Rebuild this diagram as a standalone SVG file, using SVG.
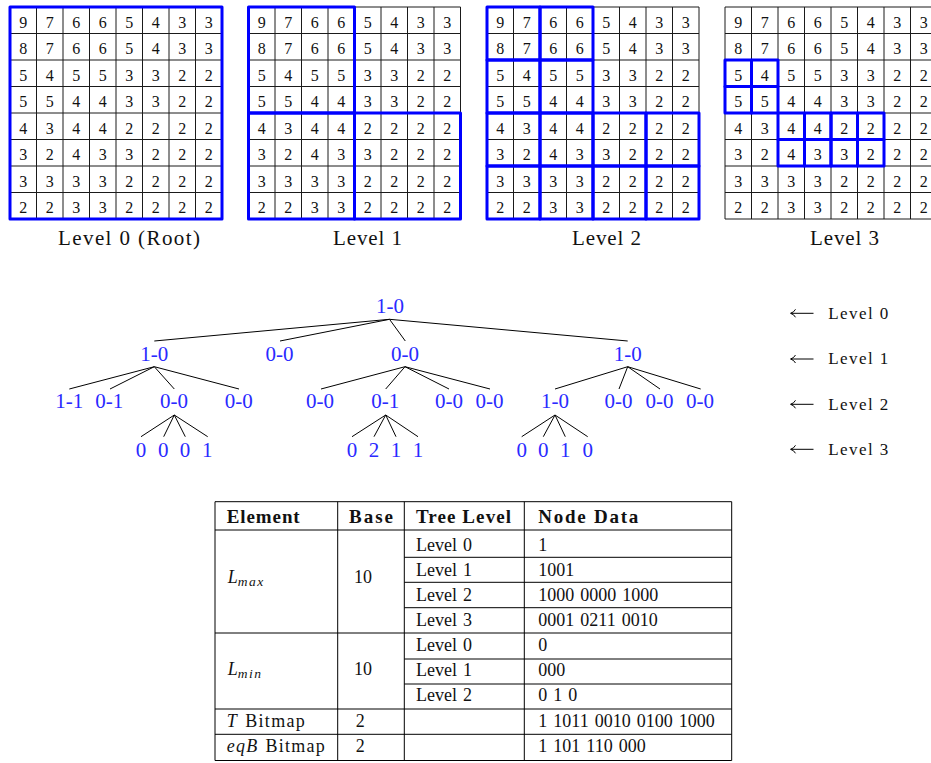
<svg xmlns="http://www.w3.org/2000/svg" xmlns:xlink="http://www.w3.org/1999/xlink" width="931" height="763" viewBox="0 0 931 763">
<style>
.num{font-family:"Liberation Serif",serif;font-size:16px;text-anchor:middle;fill:#111}
.gl{fill:none;stroke:#1a1a1a;stroke-width:1}
.blue{fill:none;stroke:#0000ff;stroke-width:3;stroke-linejoin:round}
.cap{font-family:"Liberation Serif",serif;font-size:21px;text-anchor:middle;fill:#111}
.node{font-family:"Liberation Serif",serif;font-size:21px;text-anchor:middle;fill:#2a2aff}
.edge{fill:none;stroke:#000;stroke-width:1}
.leg{font-family:"Liberation Serif",serif;font-size:17px;fill:#111}
.arr{fill:none;stroke:#000;stroke-width:1}
.tl{fill:none;stroke:#000;stroke-width:1}
.th{font-family:"Liberation Serif",serif;font-size:19px;font-weight:bold;fill:#111}
.td{font-family:"Liberation Serif",serif;font-size:18px;word-spacing:1.5px;fill:#111}
.it{font-style:italic}
</style>
<defs>
<path id="gridlines" class="gl" d="M0 0H212M0 26.5H212M0 53H212M0 79.5H212M0 106H212M0 132.5H212M0 159H212M0 185.5H212M0 212H212M0 0V212M26.5 0V212M53 0V212M79.5 0V212M106 0V212M132.5 0V212M159 0V212M185.5 0V212M212 0V212"/>
</defs>
<rect width="931" height="763" fill="#fff"/>

<g id="grid0" transform="translate(10,7)">
<use xlink:href="#gridlines" href="#gridlines"/>
<g class="num">
<text x="13.25" y="20.5">9</text><text x="39.75" y="20.5">7</text><text x="66.25" y="20.5">6</text><text x="92.75" y="20.5">6</text><text x="119.25" y="20.5">5</text><text x="145.75" y="20.5">4</text><text x="172.25" y="20.5">3</text><text x="198.75" y="20.5">3</text>
<text x="13.25" y="47">8</text><text x="39.75" y="47">7</text><text x="66.25" y="47">6</text><text x="92.75" y="47">6</text><text x="119.25" y="47">5</text><text x="145.75" y="47">4</text><text x="172.25" y="47">3</text><text x="198.75" y="47">3</text>
<text x="13.25" y="73.5">5</text><text x="39.75" y="73.5">4</text><text x="66.25" y="73.5">5</text><text x="92.75" y="73.5">5</text><text x="119.25" y="73.5">3</text><text x="145.75" y="73.5">3</text><text x="172.25" y="73.5">2</text><text x="198.75" y="73.5">2</text>
<text x="13.25" y="100">5</text><text x="39.75" y="100">5</text><text x="66.25" y="100">4</text><text x="92.75" y="100">4</text><text x="119.25" y="100">3</text><text x="145.75" y="100">3</text><text x="172.25" y="100">2</text><text x="198.75" y="100">2</text>
<text x="13.25" y="126.5">4</text><text x="39.75" y="126.5">3</text><text x="66.25" y="126.5">4</text><text x="92.75" y="126.5">4</text><text x="119.25" y="126.5">2</text><text x="145.75" y="126.5">2</text><text x="172.25" y="126.5">2</text><text x="198.75" y="126.5">2</text>
<text x="13.25" y="153">3</text><text x="39.75" y="153">2</text><text x="66.25" y="153">4</text><text x="92.75" y="153">3</text><text x="119.25" y="153">3</text><text x="145.75" y="153">2</text><text x="172.25" y="153">2</text><text x="198.75" y="153">2</text>
<text x="13.25" y="179.5">3</text><text x="39.75" y="179.5">3</text><text x="66.25" y="179.5">3</text><text x="92.75" y="179.5">3</text><text x="119.25" y="179.5">2</text><text x="145.75" y="179.5">2</text><text x="172.25" y="179.5">2</text><text x="198.75" y="179.5">2</text>
<text x="13.25" y="206">2</text><text x="39.75" y="206">2</text><text x="66.25" y="206">3</text><text x="92.75" y="206">3</text><text x="119.25" y="206">2</text><text x="145.75" y="206">2</text><text x="172.25" y="206">2</text><text x="198.75" y="206">2</text>
</g>
<rect class="blue" x="0" y="0" width="212" height="212"/>
<text class="cap" x="119" y="238" textLength="142" lengthAdjust="spacing">Level 0 (Root)</text>
</g>

<g id="grid1" transform="translate(248.5,7)">
<use xlink:href="#gridlines" href="#gridlines"/>
<g class="num">
<text x="13.25" y="20.5">9</text><text x="39.75" y="20.5">7</text><text x="66.25" y="20.5">6</text><text x="92.75" y="20.5">6</text><text x="119.25" y="20.5">5</text><text x="145.75" y="20.5">4</text><text x="172.25" y="20.5">3</text><text x="198.75" y="20.5">3</text>
<text x="13.25" y="47">8</text><text x="39.75" y="47">7</text><text x="66.25" y="47">6</text><text x="92.75" y="47">6</text><text x="119.25" y="47">5</text><text x="145.75" y="47">4</text><text x="172.25" y="47">3</text><text x="198.75" y="47">3</text>
<text x="13.25" y="73.5">5</text><text x="39.75" y="73.5">4</text><text x="66.25" y="73.5">5</text><text x="92.75" y="73.5">5</text><text x="119.25" y="73.5">3</text><text x="145.75" y="73.5">3</text><text x="172.25" y="73.5">2</text><text x="198.75" y="73.5">2</text>
<text x="13.25" y="100">5</text><text x="39.75" y="100">5</text><text x="66.25" y="100">4</text><text x="92.75" y="100">4</text><text x="119.25" y="100">3</text><text x="145.75" y="100">3</text><text x="172.25" y="100">2</text><text x="198.75" y="100">2</text>
<text x="13.25" y="126.5">4</text><text x="39.75" y="126.5">3</text><text x="66.25" y="126.5">4</text><text x="92.75" y="126.5">4</text><text x="119.25" y="126.5">2</text><text x="145.75" y="126.5">2</text><text x="172.25" y="126.5">2</text><text x="198.75" y="126.5">2</text>
<text x="13.25" y="153">3</text><text x="39.75" y="153">2</text><text x="66.25" y="153">4</text><text x="92.75" y="153">3</text><text x="119.25" y="153">3</text><text x="145.75" y="153">2</text><text x="172.25" y="153">2</text><text x="198.75" y="153">2</text>
<text x="13.25" y="179.5">3</text><text x="39.75" y="179.5">3</text><text x="66.25" y="179.5">3</text><text x="92.75" y="179.5">3</text><text x="119.25" y="179.5">2</text><text x="145.75" y="179.5">2</text><text x="172.25" y="179.5">2</text><text x="198.75" y="179.5">2</text>
<text x="13.25" y="206">2</text><text x="39.75" y="206">2</text><text x="66.25" y="206">3</text><text x="92.75" y="206">3</text><text x="119.25" y="206">2</text><text x="145.75" y="206">2</text><text x="172.25" y="206">2</text><text x="198.75" y="206">2</text>
</g>
<rect class="blue" x="0" y="0" width="106" height="106"/>
<rect class="blue" x="0" y="106" width="106" height="106"/>
<rect class="blue" x="106" y="106" width="106" height="106"/>
<text class="cap" x="119" y="238" textLength="69" lengthAdjust="spacing">Level 1</text>
</g>

<g id="grid2" transform="translate(487,7)">
<use xlink:href="#gridlines" href="#gridlines"/>
<g class="num">
<text x="13.25" y="20.5">9</text><text x="39.75" y="20.5">7</text><text x="66.25" y="20.5">6</text><text x="92.75" y="20.5">6</text><text x="119.25" y="20.5">5</text><text x="145.75" y="20.5">4</text><text x="172.25" y="20.5">3</text><text x="198.75" y="20.5">3</text>
<text x="13.25" y="47">8</text><text x="39.75" y="47">7</text><text x="66.25" y="47">6</text><text x="92.75" y="47">6</text><text x="119.25" y="47">5</text><text x="145.75" y="47">4</text><text x="172.25" y="47">3</text><text x="198.75" y="47">3</text>
<text x="13.25" y="73.5">5</text><text x="39.75" y="73.5">4</text><text x="66.25" y="73.5">5</text><text x="92.75" y="73.5">5</text><text x="119.25" y="73.5">3</text><text x="145.75" y="73.5">3</text><text x="172.25" y="73.5">2</text><text x="198.75" y="73.5">2</text>
<text x="13.25" y="100">5</text><text x="39.75" y="100">5</text><text x="66.25" y="100">4</text><text x="92.75" y="100">4</text><text x="119.25" y="100">3</text><text x="145.75" y="100">3</text><text x="172.25" y="100">2</text><text x="198.75" y="100">2</text>
<text x="13.25" y="126.5">4</text><text x="39.75" y="126.5">3</text><text x="66.25" y="126.5">4</text><text x="92.75" y="126.5">4</text><text x="119.25" y="126.5">2</text><text x="145.75" y="126.5">2</text><text x="172.25" y="126.5">2</text><text x="198.75" y="126.5">2</text>
<text x="13.25" y="153">3</text><text x="39.75" y="153">2</text><text x="66.25" y="153">4</text><text x="92.75" y="153">3</text><text x="119.25" y="153">3</text><text x="145.75" y="153">2</text><text x="172.25" y="153">2</text><text x="198.75" y="153">2</text>
<text x="13.25" y="179.5">3</text><text x="39.75" y="179.5">3</text><text x="66.25" y="179.5">3</text><text x="92.75" y="179.5">3</text><text x="119.25" y="179.5">2</text><text x="145.75" y="179.5">2</text><text x="172.25" y="179.5">2</text><text x="198.75" y="179.5">2</text>
<text x="13.25" y="206">2</text><text x="39.75" y="206">2</text><text x="66.25" y="206">3</text><text x="92.75" y="206">3</text><text x="119.25" y="206">2</text><text x="145.75" y="206">2</text><text x="172.25" y="206">2</text><text x="198.75" y="206">2</text>
</g>
<rect class="blue" x="0" y="0" width="53" height="53"/>
<rect class="blue" x="53" y="0" width="53" height="53"/>
<rect class="blue" x="0" y="53" width="53" height="53"/>
<rect class="blue" x="53" y="53" width="53" height="53"/>
<rect class="blue" x="0" y="106" width="53" height="53"/>
<rect class="blue" x="53" y="106" width="53" height="53"/>
<rect class="blue" x="0" y="159" width="53" height="53"/>
<rect class="blue" x="53" y="159" width="53" height="53"/>
<rect class="blue" x="106" y="106" width="53" height="53"/>
<rect class="blue" x="159" y="106" width="53" height="53"/>
<rect class="blue" x="106" y="159" width="53" height="53"/>
<rect class="blue" x="159" y="159" width="53" height="53"/>
<text class="cap" x="119.5" y="238" textLength="69" lengthAdjust="spacing">Level 2</text>
</g>

<g id="grid3" transform="translate(725,7)">
<use xlink:href="#gridlines" href="#gridlines"/>
<g class="num">
<text x="13.25" y="20.5">9</text><text x="39.75" y="20.5">7</text><text x="66.25" y="20.5">6</text><text x="92.75" y="20.5">6</text><text x="119.25" y="20.5">5</text><text x="145.75" y="20.5">4</text><text x="172.25" y="20.5">3</text><text x="198.75" y="20.5">3</text>
<text x="13.25" y="47">8</text><text x="39.75" y="47">7</text><text x="66.25" y="47">6</text><text x="92.75" y="47">6</text><text x="119.25" y="47">5</text><text x="145.75" y="47">4</text><text x="172.25" y="47">3</text><text x="198.75" y="47">3</text>
<text x="13.25" y="73.5">5</text><text x="39.75" y="73.5">4</text><text x="66.25" y="73.5">5</text><text x="92.75" y="73.5">5</text><text x="119.25" y="73.5">3</text><text x="145.75" y="73.5">3</text><text x="172.25" y="73.5">2</text><text x="198.75" y="73.5">2</text>
<text x="13.25" y="100">5</text><text x="39.75" y="100">5</text><text x="66.25" y="100">4</text><text x="92.75" y="100">4</text><text x="119.25" y="100">3</text><text x="145.75" y="100">3</text><text x="172.25" y="100">2</text><text x="198.75" y="100">2</text>
<text x="13.25" y="126.5">4</text><text x="39.75" y="126.5">3</text><text x="66.25" y="126.5">4</text><text x="92.75" y="126.5">4</text><text x="119.25" y="126.5">2</text><text x="145.75" y="126.5">2</text><text x="172.25" y="126.5">2</text><text x="198.75" y="126.5">2</text>
<text x="13.25" y="153">3</text><text x="39.75" y="153">2</text><text x="66.25" y="153">4</text><text x="92.75" y="153">3</text><text x="119.25" y="153">3</text><text x="145.75" y="153">2</text><text x="172.25" y="153">2</text><text x="198.75" y="153">2</text>
<text x="13.25" y="179.5">3</text><text x="39.75" y="179.5">3</text><text x="66.25" y="179.5">3</text><text x="92.75" y="179.5">3</text><text x="119.25" y="179.5">2</text><text x="145.75" y="179.5">2</text><text x="172.25" y="179.5">2</text><text x="198.75" y="179.5">2</text>
<text x="13.25" y="206">2</text><text x="39.75" y="206">2</text><text x="66.25" y="206">3</text><text x="92.75" y="206">3</text><text x="119.25" y="206">2</text><text x="145.75" y="206">2</text><text x="172.25" y="206">2</text><text x="198.75" y="206">2</text>
</g>
<rect class="blue" x="0" y="53" width="26.5" height="26.5"/>
<rect class="blue" x="26.5" y="53" width="26.5" height="26.5"/>
<rect class="blue" x="0" y="79.5" width="26.5" height="26.5"/>
<rect class="blue" x="26.5" y="79.5" width="26.5" height="26.5"/>
<rect class="blue" x="53" y="106" width="26.5" height="26.5"/>
<rect class="blue" x="79.5" y="106" width="26.5" height="26.5"/>
<rect class="blue" x="106" y="106" width="26.5" height="26.5"/>
<rect class="blue" x="132.5" y="106" width="26.5" height="26.5"/>
<rect class="blue" x="53" y="132.5" width="26.5" height="26.5"/>
<rect class="blue" x="79.5" y="132.5" width="26.5" height="26.5"/>
<rect class="blue" x="106" y="132.5" width="26.5" height="26.5"/>
<rect class="blue" x="132.5" y="132.5" width="26.5" height="26.5"/>
<text class="cap" x="119.5" y="238" textLength="69" lengthAdjust="spacing">Level 3</text>
</g>

<g id="connectors" class="edge">
<path d="M389.5 319.3L154.3 341M389.5 319.3L280 341M389.5 319.3L405.3 341M389.5 319.3L627.7 341"/>
<path d="M154.3 366.7L69.3 389M154.3 366.7L110 389M154.3 366.7L174.3 389M154.3 366.7L239 389"/>
<path d="M405 366.7L321 389M405 366.7L385.7 389M405 366.7L449 389M405 366.7L490 389"/>
<path d="M627.7 366.7L555 389M627.7 366.7L619 389M627.7 366.7L660 389M627.7 366.7L700.7 389"/>
<path d="M174.3 415L141 436.7M174.3 415L163.7 436.7M174.3 415L185.3 436.7M174.3 415L207.7 436.7"/>
<path d="M385.7 415L352 436.7M385.7 415L374 436.7M385.7 415L396 436.7M385.7 415L418 436.7"/>
<path d="M555 415L521.7 436.7M555 415L543.3 436.7M555 415L565.3 436.7M555 415L587.7 436.7"/>
</g>

<g id="tree" class="node">
<g id="n0"><text x="390" y="312.7">1-0</text></g>
<g id="n1a"><text x="154.3" y="361">1-0</text></g>
<g id="n1b"><text x="279.5" y="361">0-0</text></g>
<g id="n1c"><text x="405" y="361">0-0</text></g>
<g id="n1d"><text x="627.7" y="361">1-0</text></g>
<g id="n2a1"><text x="69.3" y="408.3">1-1</text></g>
<g id="n2a2"><text x="109.3" y="408.3">0-1</text></g>
<g id="n2a3"><text x="174" y="408.3">0-0</text></g>
<g id="n2a4"><text x="238.7" y="408.3">0-0</text></g>
<g id="n2c1"><text x="320" y="408.3">0-0</text></g>
<g id="n2c2"><text x="385.3" y="408.3">0-1</text></g>
<g id="n2c3"><text x="449" y="408.3">0-0</text></g>
<g id="n2c4"><text x="489.5" y="408.3">0-0</text></g>
<g id="n2d1"><text x="555" y="408.3">1-0</text></g>
<g id="n2d2"><text x="618.5" y="408.3">0-0</text></g>
<g id="n2d3"><text x="659.5" y="408.3">0-0</text></g>
<g id="n2d4"><text x="700" y="408.3">0-0</text></g>
<g id="n3a1"><text x="141" y="456.7">0</text></g>
<g id="n3a2"><text x="163.3" y="456.7">0</text></g>
<g id="n3a3"><text x="185" y="456.7">0</text></g>
<g id="n3a4"><text x="207.3" y="456.7">1</text></g>
<g id="n3c1"><text x="352" y="456.7">0</text></g>
<g id="n3c2"><text x="374" y="456.7">2</text></g>
<g id="n3c3"><text x="396" y="456.7">1</text></g>
<g id="n3c4"><text x="418" y="456.7">1</text></g>
<g id="n3d1"><text x="521.7" y="456.7">0</text></g>
<g id="n3d2"><text x="543.3" y="456.7">0</text></g>
<g id="n3d3"><text x="565.3" y="456.7">1</text></g>
<g id="n3d4"><text x="587.7" y="456.7">0</text></g>
</g>

<g id="legend">
<path class="arr" d="M791 313.3H813.5M795.5 309.3Q794 312.3 790.5 313.3Q794 314.3 795.5 317.3"/>
<path class="arr" d="M791 359H813.5M795.5 355Q794 358 790.5 359Q794 360 795.5 363"/>
<path class="arr" d="M791 404.3H813.5M795.5 400.3Q794 403.3 790.5 404.3Q794 405.3 795.5 408.3"/>
<path class="arr" d="M791 449.3H813.5M795.5 445.3Q794 448.3 790.5 449.3Q794 450.3 795.5 453.3"/>
<text class="leg" x="828.3" y="319.3" textLength="60" lengthAdjust="spacing">Level 0</text>
<text class="leg" x="828.3" y="364.3" textLength="60" lengthAdjust="spacing">Level 1</text>
<text class="leg" x="828.3" y="409.5" textLength="60" lengthAdjust="spacing">Level 2</text>
<text class="leg" x="828.3" y="455" textLength="60" lengthAdjust="spacing">Level 3</text>
</g>

<g id="table">
<path class="tl" d="M215 501.7H731.7M215 530H731.7M404.3 557.3H731.7M404.3 582.3H731.7M404.3 607.7H731.7M215 633H731.7M404.3 659H731.7M404.3 684H731.7M215 709H731.7M215 734.3H731.7M215 760.5H731.7M215 501.7V760.5M337.7 501.7V760.5M404.3 501.7V760.5M524.3 501.7V760.5M731.7 501.7V760.5"/>
<text class="th" x="226.7" y="523.3" textLength="73" lengthAdjust="spacing">Element</text>
<text class="th" x="349" y="523.3" textLength="44" lengthAdjust="spacing">Base</text>
<text class="th" x="416" y="523.3" textLength="95" lengthAdjust="spacing">Tree Level</text>
<text class="th" x="538.3" y="523.3" textLength="100" lengthAdjust="spacing">Node Data</text>
<text class="td it" x="227.7" y="583.3">L<tspan font-size="13.5" dy="2.5" letter-spacing="1.5">max</tspan></text>
<text class="td" x="354" y="583.3">10</text>
<text class="td" x="416" y="550.7">Level 0</text><text class="td" x="538.3" y="550.7">1</text>
<text class="td" x="416" y="576">Level 1</text><text class="td" x="538.3" y="576">1001</text>
<text class="td" x="416" y="601">Level 2</text><text class="td" x="538.3" y="601">1000 0000 1000</text>
<text class="td" x="416" y="625.7">Level 3</text><text class="td" x="538.3" y="625.7">0001 0211 0010</text>
<text class="td it" x="227.7" y="675">L<tspan font-size="13.5" dy="2.5" letter-spacing="1.5">min</tspan></text>
<text class="td" x="354" y="675">10</text>
<text class="td" x="416" y="651">Level 0</text><text class="td" x="538.3" y="651">0</text>
<text class="td" x="416" y="676">Level 1</text><text class="td" x="538.3" y="676">000</text>
<text class="td" x="416" y="701">Level 2</text><text class="td" x="538.3" y="701">0 1 0</text>
<text class="td" x="226.7" y="726.5" textLength="78" lengthAdjust="spacing"><tspan class="it">T</tspan> Bitmap</text>
<text class="td" x="355.7" y="726.5">2</text>
<text class="td" x="538.3" y="726.5">1 1011 0010 0100 1000</text>
<text class="td" x="226.7" y="752" textLength="98" lengthAdjust="spacing"><tspan class="it">eqB</tspan> Bitmap</text>
<text class="td" x="355.7" y="752">2</text>
<text class="td" x="538.3" y="752">1 101 110 000</text>
</g>
</svg>
